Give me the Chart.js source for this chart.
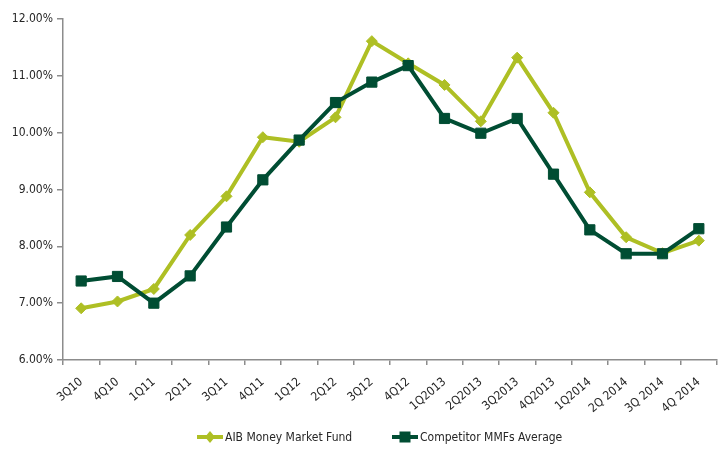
<!DOCTYPE html>
<html>
<head>
<meta charset="utf-8">
<script src="https://cdn.jsdelivr.net/npm/chart.js@4.4.1/dist/chart.umd.min.js"></script>
<style>
  html, body { margin: 0; padding: 0; background: #ffffff; }
  #wrap { width: 718px; height: 449px; position: relative; }
</style>
</head>
<body>
<div id="wrap"><canvas id="c"></canvas></div>
<script>
const categories = ['3Q10','4Q10','1Q11','2Q11','3Q11','4Q11','1Q12','2Q12','3Q12','4Q12','1Q2013','2Q2013','3Q2013','4Q2013','1Q2014','2Q 2014','3Q 2014','4Q 2014'];
const aibValues = [6.91, 7.03, 7.25, 8.20, 8.88, 9.92, 9.84, 10.27, 11.61, 11.22, 10.84, 10.20, 11.32, 10.35, 8.95, 8.16, 7.88, 8.10];
const competitorValues = [7.39, 7.47, 7.00, 7.48, 8.34, 9.17, 9.87, 10.53, 10.89, 11.18, 10.25, 9.99, 10.25, 9.27, 8.29, 7.87, 7.87, 8.31];
const seriesNames = ['AIB Money Market Fund', 'Competitor MMFs Average'];
const yTicks = [6, 7, 8, 9, 10, 11, 12];

const LIGHT = '#aebf24';
const DARK = '#004d33';
const FONT = "'DejaVu Sans Condensed', 'Liberation Sans Narrow', sans-serif";
const TEXT = '#262626';

// custom legend: a line segment with the series marker, followed by the name
const legendPlugin = {
  id: 'lineLegend',
  afterDraw(chart) {
    const ctx = chart.ctx;
    const y = 437;
    const items = [
      { x: 197, color: LIGHT, style: 'diamond', text: seriesNames[0] },
      { x: 392, color: DARK, style: 'rect', text: seriesNames[1] }
    ];
    ctx.save();
    items.forEach(it => {
      ctx.strokeStyle = it.color;
      ctx.lineWidth = 4;
      ctx.beginPath(); ctx.moveTo(it.x, y); ctx.lineTo(it.x + 26, y); ctx.stroke();
      ctx.fillStyle = it.color;
      const cx = it.x + 13;
      if (it.style === 'rect') {
        ctx.fillRect(cx - 5.5, y - 5.5, 11, 11);
      } else {
        ctx.beginPath();
        ctx.moveTo(cx, y - 6); ctx.lineTo(cx + 5, y); ctx.lineTo(cx, y + 6); ctx.lineTo(cx - 5, y);
        ctx.closePath(); ctx.fill();
      }
      ctx.fillStyle = TEXT;
      ctx.font = "12px " + FONT;
      ctx.textAlign = 'left';
      ctx.textBaseline = 'middle';
      ctx.fillText(it.text, it.x + 28, y + 1);
    });
    ctx.restore();
  }
};

new Chart(document.getElementById('c'), {
  type: 'line',
  data: {
    labels: categories,
    datasets: [
      {
        label: seriesNames[0],
        data: aibValues,
        borderColor: LIGHT,
        backgroundColor: LIGHT,
        borderWidth: 4,
        pointStyle: 'rectRot',
        pointRadius: 5.5,
        pointBorderWidth: 1,
        pointBorderColor: LIGHT,
        pointBackgroundColor: LIGHT,
        tension: 0,
        order: 1
      },
      {
        label: seriesNames[1],
        data: competitorValues,
        borderColor: DARK,
        backgroundColor: DARK,
        borderWidth: 4,
        pointStyle: 'rect',
        pointRadius: 7.2,
        pointBorderWidth: 1,
        pointBorderColor: DARK,
        pointBackgroundColor: DARK,
        tension: 0,
        order: 0
      }
    ]
  },
  plugins: [legendPlugin],
  options: {
    responsive: true,
    maintainAspectRatio: false,
    animation: false,
    devicePixelRatio: 1,
    layout: { autoPadding: false, padding: { top: 19, right: 1, left: 0, bottom: 29 } },
    plugins: {
      tooltip: { enabled: false },
      legend: { display: false }
    },
    scales: {
      x: {
        offset: true,
        border: { display: true, color: '#8c8c8c', width: 1.5 },
        grid: { display: true, drawOnChartArea: false, drawTicks: true, tickLength: 5, color: '#8c8c8c', lineWidth: 1.5, offset: true },
        ticks: {
          autoSkip: false,
          minRotation: 40,
          maxRotation: 40,
          padding: 10,
          color: TEXT,
          font: { family: FONT, size: 12 }
        },
        afterFit: function(s) { s.height = 60; s.paddingLeft = 0; s.paddingRight = 0; }
      },
      y: {
        min: 6,
        max: 12,
        afterBuildTicks: function(s) { s.ticks = yTicks.map(v => ({ value: v })); },
        border: { display: true, color: '#8c8c8c', width: 1.5 },
        grid: { display: true, drawOnChartArea: false, drawTicks: true, tickLength: 6, color: '#8c8c8c', lineWidth: 1.5 },
        ticks: {
          padding: 4,
          color: TEXT,
          font: { family: FONT, size: 12 },
          callback: function(v) { return Number(v).toFixed(2) + '%'; }
        },
        afterFit: function(s) { s.width = 63; s.paddingTop = 0; s.paddingBottom = 0; }
      }
    }
  }
});
</script>
</body>
</html>
